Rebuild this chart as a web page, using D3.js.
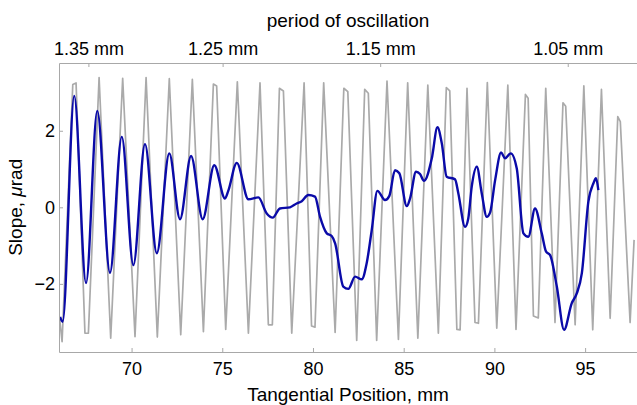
<!DOCTYPE html>
<meta charset="utf-8">
<script src="https://d3js.org/d3.v7.min.js"></script>

<style>
body { margin: 0; background: #fff; }
text { font-family: "Liberation Sans", Arial, sans-serif; fill: #000; }
.axis path, .axis line { stroke: #a8a8a8; stroke-width: 1px; }
.axis text { font-size: 18px; }
.line { fill: none; stroke-linejoin: round; }
.ref { stroke: #aaaaaa; stroke-width: 1.7px; }
.meas { stroke: #0a0aa8; stroke-width: 2.4px; }
</style>

<svg width="637" height="405"></svg>

<script>

// gray trace: chirped reference oscillation (mm, urad)
var grayX = [66.03,66.17,66.76,66.94,67.43,67.62,68.21,68.85,69.51,70.19,
  70.80,71.42,72.08,72.71,73.35,73.96,74.51,74.69,75.19,75.83,
  76.44,77.08,77.54,77.76,78.15,78.37,78.83,79.51,79.92,80.11,
  80.59,81.22,81.70,81.92,82.41,82.85,83.05,83.51,84.08,84.71,
  85.22,85.78,86.33,86.91,87.35,87.54,87.93,88.11,88.49,88.93,
  89.12,89.61,90.13,90.74,91.19,91.71,91.86,92.15,92.42,92.83,
  93.34,93.78,93.93,94.45,94.93,95.42,95.90,96.38,96.80,96.94,
  97.48,97.70];
var grayY = [-2.89,-3.51,3.21,3.25,-3.29,-3.29,3.39,-3.42,3.37,-3.38,
  3.39,-3.39,3.36,-3.33,3.34,-3.25,3.22,3.17,-3.19,3.28,
  -3.29,3.25,-3.07,-3.07,3.11,3.04,-3.29,3.25,-3.10,-3.13,
  3.25,-3.27,3.11,3.02,-3.48,3.08,2.98,-3.48,3.30,-3.45,
  3.25,-3.42,3.19,-3.29,3.13,3.04,-3.19,-3.20,3.11,-3.01,
  -3.03,3.26,-3.16,3.19,-3.19,2.95,2.85,-2.84,-2.89,3.11,
  -3.01,2.73,2.64,-3.07,3.17,-3.20,3.08,-2.90,2.37,2.24,
  -3.01,-0.85];

// blue trace: measured slope
var blueX = [66.06,66.20,66.84,67.49,68.11,68.81,69.46,70.10,70.74,71.39,
  72.08,72.67,73.28,73.92,74.56,75.15,75.33,75.80,76.44,76.99,
  77.45,77.78,78.18,78.73,79.10,79.38,79.74,80.11,80.39,80.76,
  81.03,81.22,81.67,81.95,82.32,82.69,82.96,83.24,83.55,83.97,
  84.21,84.52,84.76,85.17,85.35,85.68,85.90,86.12,86.55,86.86,
  87.10,87.37,87.83,88.01,88.38,88.56,88.75,89.03,89.30,89.58,
  89.76,90.04,90.37,90.59,90.90,91.23,91.60,91.87,92.24,92.61,
  92.85,93.07,93.44,93.84,94.26,94.54,94.82,95.18,95.46,95.60,
  95.73];
var blueY = [-2.86,-2.99,2.91,-1.98,2.52,-1.71,1.84,-1.51,1.65,-1.20,
  1.41,-0.31,1.34,-0.31,1.10,0.23,0.43,1.16,0.21,0.26,
  -0.16,-0.27,-0.03,0.00,0.10,0.16,0.32,0.28,-0.25,-0.68,
  -0.75,-0.94,-2.07,-2.13,-1.81,-1.88,-1.46,-0.59,0.43,0.19,
  0.30,0.97,0.89,0.03,0.23,0.93,0.87,0.69,1.28,2.09,
  1.67,0.80,0.73,0.37,-0.51,-0.29,0.54,1.06,0.37,-0.25,
  -0.14,0.71,1.43,1.28,1.41,1.02,-0.68,-0.77,-0.03,-0.68,
  -1.16,-1.25,-2.07,-3.20,-2.51,-2.25,-1.72,0.15,0.63,0.76,
  0.45];

var xTicks = [70, 75, 80, 85, 90, 95];
var yTicks = [-2, 0, 2];
var periodTicks = [1.35, 1.25, 1.15, 1.05];

// spatial frequency (1/mm) grows linearly with position: f = chirpA + chirpB * x
var chirpA = 0.1991, chirpB = 0.00801;

var svg = d3.select("svg"),
    margin = {top: 63, right: 0, bottom: 53, left: 59},
    width = +svg.attr("width") - margin.left - margin.right,
    height = +svg.attr("height") - margin.top - margin.bottom,
    g = svg.append("g").attr("transform", "translate(" + margin.left + "," + margin.top + ")");

var x = d3.scaleLinear()
    .domain([66, 97.86])
    .range([0, width]);

var y = d3.scaleLinear()
    .domain([-3.78, 3.77])
    .range([height, 0]);

var grayData = grayX.map(function(d, i) { return {x: d, y: grayY[i]}; });
var blueData = blueX.map(function(d, i) { return {x: d, y: blueY[i]}; });

var line = d3.line()
    .x(function(d) { return x(d.x); })
    .y(function(d) { return y(d.y); });

svg.append("defs").append("clipPath")
    .attr("id", "clip")
  .append("rect")
    .attr("width", width)
    .attr("height", height);

var plot = g.append("g").attr("clip-path", "url(#clip)");

plot.append("path")
    .datum(grayData)
    .attr("class", "line ref")
    .attr("d", line);

plot.append("path")
    .datum(blueData)
    .attr("class", "line meas")
    .attr("d", line.curve(d3.curveMonotoneX));

// axes, ticks pointing inward
g.append("g")
    .attr("class", "axis")
    .attr("transform", "translate(0," + height + ")")
    .call(d3.axisBottom(x).tickValues(xTicks).tickSize(-4).tickSizeOuter(0).tickPadding(10));

g.append("g")
    .attr("class", "axis")
    .call(d3.axisLeft(y).tickValues(yTicks).tickSize(-4).tickSizeOuter(0).tickPadding(4));

var periodPos = periodTicks.map(function(p) { return (1 / p - chirpA) / chirpB; });

g.append("g")
    .attr("class", "axis")
    .call(d3.axisTop(x).tickValues(periodPos).tickSize(-4).tickSizeOuter(0).tickPadding(8)
      .tickFormat(function(d, i) { return d3.format(".2f")(periodTicks[i]) + " mm"; }));

svg.selectAll(".axis text").attr("fill", "#000");

// titles
svg.append("text")
    .attr("x", margin.left + width / 2)
    .attr("y", 27)
    .attr("text-anchor", "middle")
    .style("font-size", "19px")
    .text("period of oscillation");

svg.append("text")
    .attr("x", margin.left + width / 2)
    .attr("y", 401)
    .attr("text-anchor", "middle")
    .style("font-size", "19px")
    .text("Tangential Position, mm");

var yt = svg.append("text")
    .attr("transform", "translate(22," + (margin.top + y(0)) + ") rotate(-90)")
    .attr("text-anchor", "middle")
    .style("font-size", "19px");
yt.append("tspan").text("Slope, ");
yt.append("tspan").style("font-style", "italic").text("\u03bc");
yt.append("tspan").text("rad");

</script>
